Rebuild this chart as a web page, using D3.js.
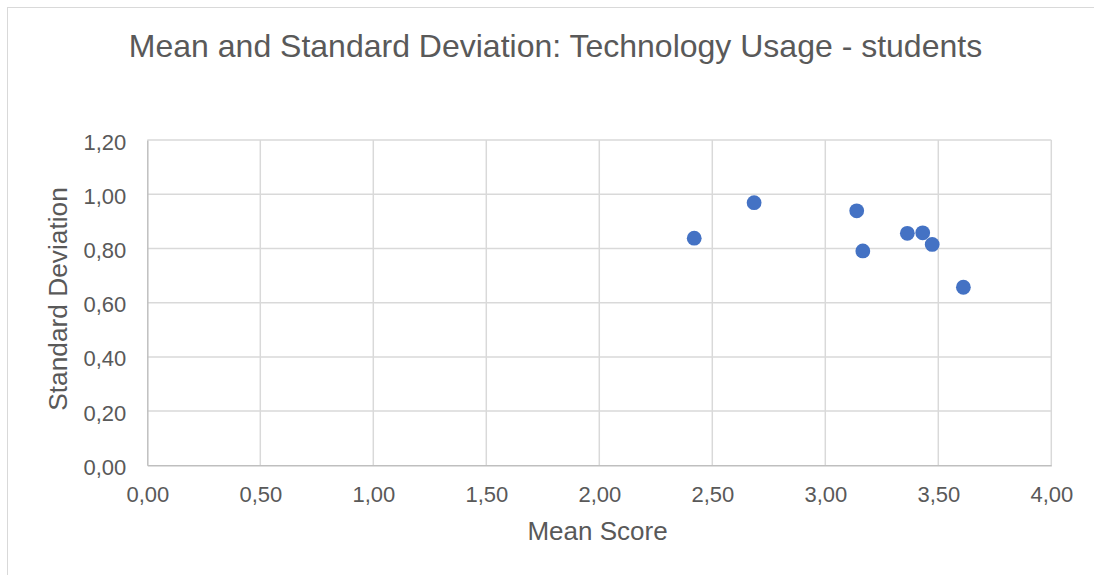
<!DOCTYPE html>
<html>
<head>
<meta charset="utf-8">
<script src="https://cdn.jsdelivr.net/npm/d3@7"></script>
<style>
  html, body { margin: 0; padding: 0; background: #fff; }
  svg { display: block; }
  text { font-family: "Liberation Sans", Arial, sans-serif; fill: #595959; }
</style>
</head>
<body>
<svg id="chart" width="1094" height="575"></svg>
<script>
// Data
const meanScores = [2.42, 2.685, 3.139, 3.166, 3.363, 3.431, 3.473, 3.611];
const stdDevs    = [0.838, 0.969, 0.939, 0.791, 0.856, 0.858, 0.815, 0.657];
const xTicks = [0, 0.5, 1, 1.5, 2, 2.5, 3, 3.5, 4];
const yTicks = [0, 0.2, 0.4, 0.6, 0.8, 1.0, 1.2];
const chartTitle = "Mean and Standard Deviation: Technology Usage - students";
const xTitle = "Mean Score";
const yTitle = "Standard Deviation";

const svg = d3.select("#chart");
const W = 1094, H = 575;
const plot = { left: 147.3, right: 1051.3, top: 140.1, bottom: 465.3 };

// outer chart border (cropped at right/bottom)
svg.append("rect")
  .attr("x", 7.5).attr("y", 7.5)
  .attr("width", W + 10).attr("height", H + 10)
  .attr("fill", "#fff").attr("stroke", "#d9d9d9").attr("stroke-width", 1);

const x = d3.scaleLinear().domain([0, 4]).range([plot.left, plot.right]);
const y = d3.scaleLinear().domain([0, 1.2]).range([plot.bottom, plot.top]);
const fmt = v => d3.format(".2f")(v).replace(".", ",");

// gridlines
const grid = svg.append("g");
grid.selectAll("line.v").data(xTicks.slice(1)).enter().append("line")
  .attr("x1", d => x(d)).attr("x2", d => x(d))
  .attr("y1", plot.top).attr("y2", plot.bottom)
  .attr("stroke", "#d9d9d9").attr("stroke-width", 1.5);
grid.selectAll("line.h").data(yTicks.slice(1)).enter().append("line")
  .attr("x1", plot.left).attr("x2", plot.right)
  .attr("y1", d => y(d)).attr("y2", d => y(d))
  .attr("stroke", "#d9d9d9").attr("stroke-width", 1.5);

// axes
const xAxis = d3.axisBottom(x).tickValues(xTicks).tickFormat(fmt).tickSize(0).tickPadding(36.7);
const yAxis = d3.axisLeft(y).tickValues(yTicks).tickFormat(fmt).tickSize(0).tickPadding(21);

const gx = svg.append("g").attr("transform", `translate(0,${plot.bottom})`).call(xAxis);
const gy = svg.append("g").attr("transform", `translate(${plot.left},0)`).call(yAxis);
[gx, gy].forEach(g => {
  g.select(".domain").attr("stroke", "#bfbfbf").attr("stroke-width", 1.5);
  g.selectAll("text").style("font-family", '"Liberation Sans", Arial, sans-serif')
    .style("font-size", "22px").attr("fill", "#595959");
});
gy.selectAll("text").attr("dy", "0.36em").attr("y", 1);
gx.selectAll("text").attr("dy", "0");

// points
svg.append("g").selectAll("circle").data(meanScores.map((m, i) => [m, stdDevs[i]]))
  .enter().append("circle")
  .attr("cx", d => x(d[0])).attr("cy", d => y(d[1]))
  .attr("r", 7.4).attr("fill", "#4472C4");

// titles
svg.append("text").attr("x", 555.5).attr("y", 57)
  .attr("text-anchor", "middle").style("font-size", "32px").text(chartTitle);
svg.append("text").attr("x", 597.5).attr("y", 540)
  .attr("text-anchor", "middle").style("font-size", "26px").text(xTitle);
svg.append("text").attr("transform", "translate(67,299) rotate(-90)")
  .attr("text-anchor", "middle").style("font-size", "26.3px").text(yTitle);
</script>
</body>
</html>
